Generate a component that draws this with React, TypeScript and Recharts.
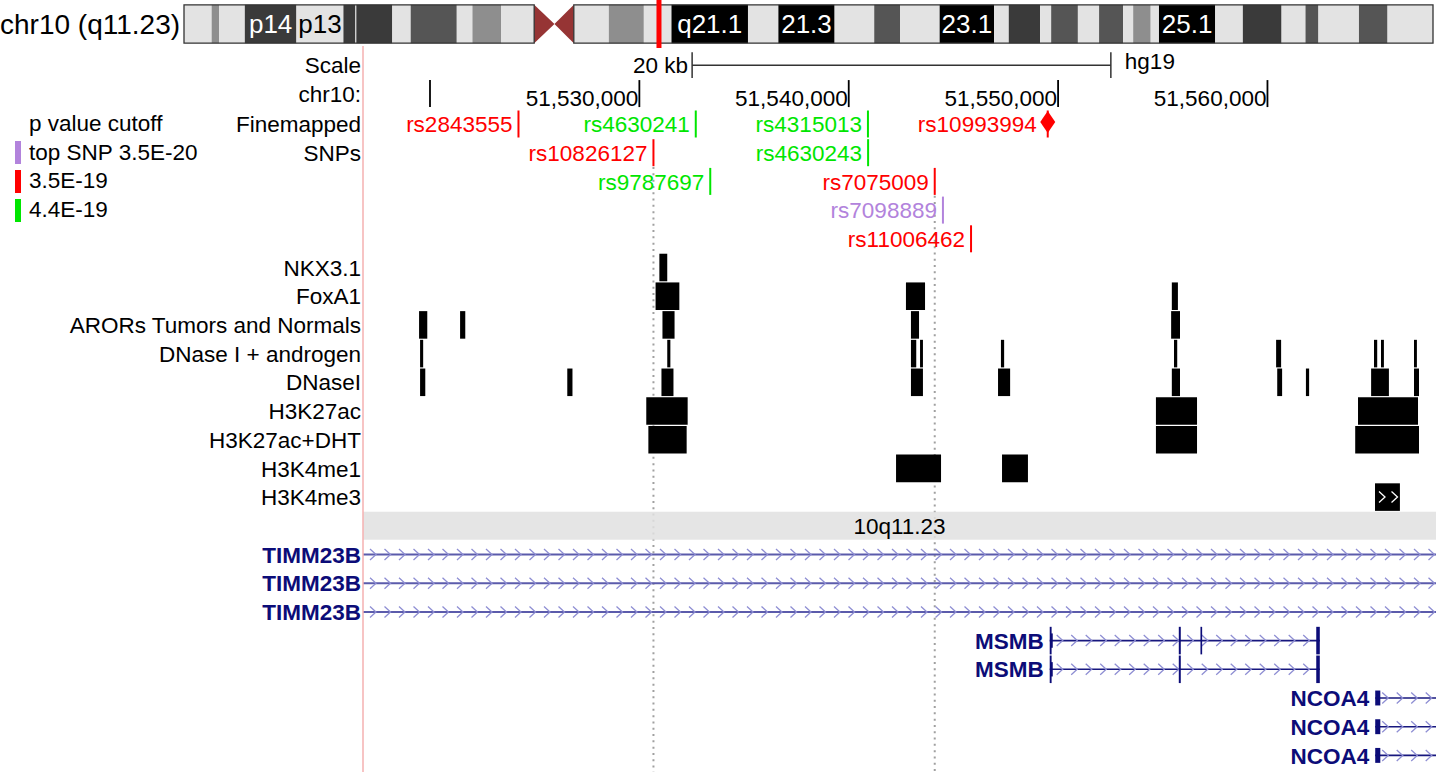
import React from 'react'
import { ComposedChart, XAxis, YAxis, ReferenceArea, ReferenceLine, Scatter } from 'recharts'

const FONT = '"Liberation Sans", Arial, Helvetica, sans-serif'
const FS = 22.5
const W = 1436
const MAIN_TOP = 46
const MAIN_H = 726
const ROW_H = 28.7
const FIRST_ROW_Y = 78

// hg19 chr10 window shown
const VIEW: [number, number] = [51516800, 51568050]
const VIEW_MID = (VIEW[0] + VIEW[1]) / 2
const CHR_LEN = 135534747

// cytobands of chr10: start, end, stain, label drawn in the ideogram
const BANDS: [number, number, string, string][] = [
  [0, 3000000, 'gneg', ''],
  [3000000, 3800000, 'gpos25', ''],
  [3800000, 6600000, 'gneg', ''],
  [6600000, 12200000, 'gpos75', 'p14'],
  [12200000, 17300000, 'gneg', 'p13'],
  [17300000, 18600000, 'gpos75', ''],
  [18600000, 18700000, 'gneg', ''],
  [18700000, 22600000, 'gpos75', ''],
  [22600000, 24600000, 'gneg', ''],
  [24600000, 29600000, 'gpos50', ''],
  [29600000, 31300000, 'gneg', ''],
  [31300000, 34400000, 'gpos25', ''],
  [34400000, 38000000, 'gneg', ''],
  [38000000, 40200000, 'acen', ''],
  [40200000, 42300000, 'acen', ''],
  [42300000, 46100000, 'gneg', ''],
  [46100000, 49900000, 'gpos25', ''],
  [49900000, 52900000, 'gneg', ''],
  [52900000, 61200000, 'gpos100', 'q21.1'],
  [61200000, 64500000, 'gneg', ''],
  [64500000, 70600000, 'gpos100', '21.3'],
  [70600000, 74900000, 'gneg', ''],
  [74900000, 77700000, 'gpos50', ''],
  [77700000, 82000000, 'gneg', ''],
  [82000000, 87900000, 'gpos100', '23.1'],
  [87900000, 89500000, 'gneg', ''],
  [89500000, 92900000, 'gpos75', ''],
  [92900000, 94100000, 'gneg', ''],
  [94100000, 97000000, 'gpos50', ''],
  [97000000, 99300000, 'gneg', ''],
  [99300000, 101900000, 'gpos50', ''],
  [101900000, 103000000, 'gneg', ''],
  [103000000, 104900000, 'gpos25', ''],
  [104900000, 105800000, 'gneg', ''],
  [105800000, 111900000, 'gpos100', '25.1'],
  [111900000, 114900000, 'gneg', ''],
  [114900000, 119100000, 'gpos75', ''],
  [119100000, 121700000, 'gneg', ''],
  [121700000, 123100000, 'gpos50', ''],
  [123100000, 127500000, 'gneg', ''],
  [127500000, 130600000, 'gpos50', ''],
  [130600000, CHR_LEN, 'gneg', ''],
]
const CENTROMERE: [number, number] = [38000000, 42300000]

const STAIN_FILL: Record<string, string> = {
  gneg: '#e3e3e3',
  gpos25: '#8e8e8e',
  gpos50: '#555555',
  gpos75: '#3a3a3a',
  gpos100: '#000000',
  acen: '#963434',
}

// rows of the track area (row 0 = first SNP line)
const SCALE_ROW = -2.05
const AXIS_ROW = -1.06
const LEFT_ROWS = [SCALE_ROW, AXIS_ROW, 0, 1, 5, 6, 7, 8, 9, 10, 11, 12, 13, 15, 16, 17]
const LEFT_LABELS = [
  'Scale', 'chr10:', 'Finemapped', 'SNPs', 'NKX3.1', 'FoxA1', 'ARORs Tumors and Normals',
  'DNase I + androgen', 'DNaseI', 'H3K27ac', 'H3K27ac+DHT', 'H3K4me1', 'H3K4me3',
  'TIMM23B', 'TIMM23B', 'TIMM23B',
]
const NAVY = '#0c0c78'

const SCALE_BAR: [number, number] = [51532520, 51552520]
const SCALE_TEXT = ['20 kb', 'hg19']
const AXIS_TICKS = [51520000, 51530000, 51540000, 51550000, 51560000]
const AXIS_LABELS = ['', '51,530,000', '51,540,000', '51,550,000', '51,560,000']

const SNP_COLOR: Record<string, string> = { top: '#b283dc', red: '#ff0000', green: '#00e600' }
const SNP_NAMES = ['rs2843555', 'rs4630241', 'rs4315013', 'rs10993994', 'rs10826127', 'rs4630243', 'rs9787697', 'rs7075009', 'rs7098889', 'rs11006462']
const SNP_POS = [51524226, 51532694, 51540918, 51549505, 51530673, 51540925, 51533386, 51544108, 51544500, 51545842]
const SNP_ROW = [0, 0, 0, 0, 1, 1, 2, 2, 3, 4]
const SNP_CAT = ['red', 'green', 'green', 'red', 'red', 'green', 'green', 'red', 'top', 'red']
const SNP_DIAMOND = ['rs10993994']
const SNP_HIGHLIGHT = ['rs10826127', 'rs7075009']

const LEGEND_TEXT = ['p value cutoff', 'top SNP 3.5E-20', '3.5E-19', '4.4E-19']
const LEGEND_CAT = ['', 'top', 'red', 'green']

// peak tracks: [start, end]
const NKX31: [number, number][] = [[51530955, 51531332]]
const FOXA1: [number, number][] = [[51530774, 51531910], [51542733, 51543645], [51555432, 51555723]]
const ARORS: [number, number][] = [[51519478, 51519870], [51521437, 51521685], [51531103, 51531681], [51542972, 51543358], [51555399, 51555824]]
const DNASE_ANDRO: [number, number][] = [
  [51519526, 51519674], [51531332, 51531481], [51542972, 51543225], [51543406, 51543545], [51547270, 51547423],
  [51555537, 51555690], [51560413, 51560652], [51565089, 51565242], [51565424, 51565562], [51567000, 51567138],
]
const DNASEI: [number, number][] = [
  [51519526, 51519775], [51526557, 51526805], [51531055, 51531629], [51542972, 51543545], [51547131, 51547709],
  [51555432, 51555824], [51560466, 51560700], [51561837, 51561990], [51564951, 51565801], [51567000, 51567238],
]
const H3K27AC: [number, number][] = [[51530330, 51532307], [51554673, 51556636], [51564325, 51567191]]
const H3K27AC_DHT: [number, number][] = [[51530430, 51532259], [51554673, 51556636], [51564191, 51567238]]
const H3K4ME1: [number, number][] = [[51542260, 51544409], [51547322, 51548560]]
const H3K4ME3: [number, number][] = [[51565137, 51566326]]
const PEAK_TRACKS = [NKX31, FOXA1, ARORS, DNASE_ANDRO, DNASEI, H3K27AC, H3K27AC_DHT, H3K4ME1, H3K4ME3]
const PEAK_ROWS = [5, 6, 7, 8, 9, 10, 11, 12, 13]

const BAND_ROW = 14
const BAND_NAME = '10q11.23'

// genes: exons as [start, end, half height in rows]
const MSMB_A_EXONS: [number, number, number][] = [
  [51549600, 51549690, 0.48], [51549640, 51549745, 0.25], [51555765, 51555860, 0.48], [51556800, 51556880, 0.48], [51562330, 51562500, 0.48],
]
const MSMB_B_EXONS: [number, number, number][] = [
  [51549600, 51549690, 0.48], [51549640, 51549745, 0.25], [51555765, 51555860, 0.48], [51562330, 51562500, 0.48],
]
const NCOA4_EXONS: [number, number, number][] = [[51565147, 51565390, 0.26]]
const GENE_NAMES = ['TIMM23B', 'TIMM23B', 'TIMM23B', 'MSMB', 'MSMB', 'NCOA4', 'NCOA4', 'NCOA4']
const GENE_ROWS = [15, 16, 17, 18, 19, 20, 21, 22]
const GENE_SPANS: [number, number][] = [
  VIEW, VIEW, VIEW, [51549600, 51562500], [51549600, 51562500], [51565147, 51590734], [51565147, 51590734], [51565147, 51590734],
]
const GENE_EXONS = [[], [], [], MSMB_A_EXONS, MSMB_B_EXONS, NCOA4_EXONS, NCOA4_EXONS, NCOA4_EXONS]
const GENE_INLINE_LABEL = [false, false, false, true, true, true, true, true]

const Y_DOMAIN: [number, number] = [-FIRST_ROW_Y / ROW_H, (MAIN_H - FIRST_ROW_Y) / ROW_H]

const chevronPath = (x0: number, x1: number, cy: number, step: number, first: number) => {
  let d = ''
  for (let cx = x0 + first; cx < x1 - 3; cx += step) {
    d += `M${cx - 3},${cy - 5.5}L${cx + 3},${cy}L${cx - 3},${cy + 5.5}`
  }
  return d
}

const GeneLine = (p: any) => {
  const { x, y, width, height, light, label } = p
  const cy = y + height / 2
  const line = light ? '#5b5bab' : '#17177e'
  return (
    <g>
      <line x1={x} x2={x + width} y1={cy} y2={cy} stroke={line} strokeWidth={light ? 2 : 1.6} />
      <path d={chevronPath(x, x + width, cy, 14.5, 10)} stroke="#8e8ed3" strokeWidth={1.3} fill="none" />
      {label && (
        <text x={x - 6} y={cy} dy="0.36em" textAnchor="end" fill={NAVY} fontSize={FS} fontWeight="bold" fontFamily={FONT}>
          {label}
        </text>
      )}
    </g>
  )
}

const ChevronBlock = (p: any) => {
  const { x, y, width, height } = p
  return (
    <g>
      <rect x={x} y={y} width={width} height={height} fill="#000" />
      <path d={chevronPath(x, x + width, y + height / 2, 12.5, 7)} stroke="#fff" strokeWidth={1.3} fill="none" />
    </g>
  )
}

// vertical dotted guide drawn from the left edge of its (1 bp wide) area
const DottedGuide = (p: any) => {
  const { x, y, height } = p
  return <line x1={x} x2={x} y1={y} y2={y + height} stroke="#a0a0a0" strokeWidth={2} strokeDasharray="2 4.3" />
}

const ScaleBar = (p: any) => {
  const { x, y, width, height } = p
  const my = y + height / 2
  return (
    <g fontFamily={FONT} fontSize={FS}>
      <line x1={x} x2={x + width} y1={my} y2={my} stroke="#333" strokeWidth={1.5} />
      <line x1={x} x2={x} y1={y} y2={y + height} stroke="#333" strokeWidth={1.5} />
      <line x1={x + width} x2={x + width} y1={y} y2={y + height} stroke="#333" strokeWidth={1.5} />
      <text x={x - 4} y={my} dy="0.36em" textAnchor="end" fill="#000">{SCALE_TEXT[0]}</text>
      <text x={x + width + 14} y={my - 4} dy="0.36em" textAnchor="start" fill="#000">{SCALE_TEXT[1]}</text>
    </g>
  )
}

const AxisTick = (p: any) => {
  const { cx, cy, payload } = p
  return (
    <g>
      <line x1={cx} x2={cx} y1={cy - 13.5} y2={cy + 13.5} stroke="#000" strokeWidth={1.8} />
      {payload.label && (
        <text x={cx - 1} y={cy + 4} dy="0.36em" textAnchor="end" fill="#000" fontSize={FS} fontFamily={FONT}>
          {payload.label}
        </text>
      )}
    </g>
  )
}

const SnpMark = (p: any) => {
  const { cx, cy, payload } = p
  const c = SNP_COLOR[payload.cat]
  const dia = payload.diamond
  return (
    <g>
      <line x1={cx} x2={cx} y1={cy - 13.5} y2={cy + 13.5} stroke={c} strokeWidth={2} />
      {dia && <polygon points={`${cx},${cy - 13} ${cx + 7.5},${cy - 2} ${cx},${cy + 9} ${cx - 7.5},${cy - 2}`} fill={c} />}
      <text x={cx - (dia ? 11 : 6)} y={cy} dy="0.36em" textAnchor="end" fill={c} fontSize={FS} fontFamily={FONT}>
        {payload.name}
      </text>
    </g>
  )
}

const LeftTick = (p: any) => {
  const i = p.index
  const label = LEFT_LABELS[i]
  const gene = i >= 13
  return (
    <text x={p.x} y={p.y} dy="0.36em" textAnchor="end" fill={gene ? NAVY : '#000'} fontSize={FS}
      fontWeight={gene ? 'bold' : 'normal'} fontFamily={FONT}>
      {label}
    </text>
  )
}

const BandLabel = (p: any) => {
  const { cx, cy, payload } = p
  const dark = payload.stain !== 'gneg' && payload.stain !== 'gpos25'
  return (
    <text x={cx} y={cy} dy="0.36em" textAnchor="middle" fill={dark ? '#fff' : '#000'} fontSize={26} fontFamily={FONT}>
      {payload.label}
    </text>
  )
}

const Acen = (p: any) => {
  const { x, y, width, height, side } = p
  const pts = side === 'p'
    ? `${x},${y} ${x + width},${y + height / 2} ${x},${y + height}`
    : `${x},${y + height / 2} ${x + width},${y} ${x + width},${y + height}`
  return <polygon points={pts} fill={STAIN_FILL.acen} />
}

function Ideogram() {
  const labels = BANDS.filter((b) => b[3]).map((b) => ({ x: (b[0] + b[1]) / 2, y: 0.5, label: b[3], stain: b[2] }))
  return (
    <ComposedChart width={W} height={48} margin={{ top: 0, right: 3, bottom: 0, left: 184 }}>
      <XAxis type="number" dataKey="x" domain={[0, CHR_LEN]} hide allowDataOverflow />
      <YAxis type="number" dataKey="y" domain={[0, 1]} hide allowDataOverflow />
      {BANDS.map((b, i) =>
        b[2] === 'acen' ? (
          <ReferenceArea key={`b${i}`} x1={b[0]} x2={b[1]} y1={0.1} y2={0.9} ifOverflow="visible"
            shape={(sp: any) => <Acen {...sp} side={b[0] < CENTROMERE[0] + 1000000 ? 'p' : 'q'} />} />
        ) : (
          <ReferenceArea key={`b${i}`} x1={b[0]} x2={b[1]} y1={0.1} y2={0.9} fill={STAIN_FILL[b[2]]} fillOpacity={1}
            stroke="none" ifOverflow="visible" />
        )
      )}
      <ReferenceArea x1={0} x2={CENTROMERE[0]} y1={0.1} y2={0.9} fill="none" stroke="#333" strokeWidth={1.3} ifOverflow="visible" />
      <ReferenceArea x1={CENTROMERE[1]} x2={CHR_LEN} y1={0.1} y2={0.9} fill="none" stroke="#333" strokeWidth={1.3} ifOverflow="visible" />
      <Scatter data={labels} isAnimationActive={false} shape={(sp: any) => <BandLabel {...sp} />} />
      <ReferenceLine x={VIEW_MID} stroke="#ff0000" strokeWidth={5} ifOverflow="visible" />
    </ComposedChart>
  )
}

function Tracks() {
  const snps = SNP_NAMES.map((name, i) => ({
    x: SNP_POS[i], y: SNP_ROW[i], name, cat: SNP_CAT[i], diamond: SNP_DIAMOND.includes(name),
  }))
  const ticks = AXIS_TICKS.map((t, i) => ({ x: t, y: AXIS_ROW, label: AXIS_LABELS[i] }))
  return (
    <ComposedChart width={W} height={MAIN_H} margin={{ top: 0, right: 0, bottom: 0, left: 0 }}>
      <XAxis type="number" dataKey="x" domain={VIEW} hide allowDataOverflow />
      <YAxis type="number" dataKey="y" domain={Y_DOMAIN} reversed allowDataOverflow width={363}
        ticks={LEFT_ROWS} interval={0} tickLine={false} tickSize={0} tickMargin={2}
        axisLine={{ stroke: '#f5b0b0', strokeWidth: 1.5 }} tick={(tp: any) => <LeftTick {...tp} />} />

      <ReferenceArea x1={SCALE_BAR[0]} x2={SCALE_BAR[1]} y1={SCALE_ROW - 0.45} y2={SCALE_ROW + 0.45}
        ifOverflow="visible" shape={(sp: any) => <ScaleBar {...sp} />} />

      {snps.filter((s) => SNP_HIGHLIGHT.includes(s.name)).map((s) => (
        <ReferenceArea key={`d${s.name}`} x1={s.x} x2={s.x + 1} y1={s.y + 0.5} y2={Y_DOMAIN[1]}
          ifOverflow="visible" shape={(sp: any) => <DottedGuide {...sp} />} />
      ))}

      {PEAK_TRACKS.map((blocks, t) =>
        blocks.map((b, i) =>
          t === 8 ? (
            <ReferenceArea key={`p${t}-${i}`} x1={b[0]} x2={b[1]} y1={PEAK_ROWS[t] - 0.48} y2={PEAK_ROWS[t] + 0.48}
              ifOverflow="visible" shape={(sp: any) => <ChevronBlock {...sp} />} />
          ) : (
            <ReferenceArea key={`p${t}-${i}`} x1={b[0]} x2={b[1]} y1={PEAK_ROWS[t] - 0.48} y2={PEAK_ROWS[t] + 0.48}
              fill="#000" fillOpacity={1} stroke="none" ifOverflow="visible" />
          )
        )
      )}

      <ReferenceArea x1={VIEW[0]} x2={VIEW[1]} y1={BAND_ROW - 0.49} y2={BAND_ROW + 0.49} fill="#e1e1e1" fillOpacity={0.85}
        stroke="none" ifOverflow="visible"
        label={{ value: BAND_NAME, position: 'center', fill: '#000', fontSize: FS, fontFamily: FONT }} />

      {GENE_NAMES.map((g, i) => (
        <ReferenceArea key={`g${i}`} x1={GENE_SPANS[i][0]} x2={GENE_SPANS[i][1]} y1={GENE_ROWS[i] - 0.2} y2={GENE_ROWS[i] + 0.2}
          ifOverflow="hidden"
          shape={(sp: any) => <GeneLine {...sp} light={!GENE_INLINE_LABEL[i]} label={GENE_INLINE_LABEL[i] ? g : ''} />} />
      ))}
      {GENE_EXONS.map((exons, i) =>
        exons.map((e, k) => (
          <ReferenceArea key={`e${i}-${k}`} x1={e[0]} x2={e[1]} y1={GENE_ROWS[i] - e[2]} y2={GENE_ROWS[i] + e[2]}
            fill={NAVY} fillOpacity={1} stroke="none" ifOverflow="hidden" />
        ))
      )}

      <Scatter data={ticks} isAnimationActive={false} shape={(sp: any) => <AxisTick {...sp} />} />
      <Scatter data={snps} isAnimationActive={false} shape={(sp: any) => <SnpMark {...sp} />} />
    </ComposedChart>
  )
}

export default function App() {
  return (
    <div style={{ position: 'absolute', left: 0, top: 0, width: W, height: 772, background: '#fff', overflow: 'hidden', fontFamily: FONT }}>
      <div style={{ position: 'absolute', left: 0, top: 0 }}>
        <Ideogram />
      </div>
      <div style={{ position: 'absolute', left: 0, top: 0, width: 180, height: 48, lineHeight: '50px', textAlign: 'right', fontSize: 28, whiteSpace: 'nowrap', color: '#000' }}>
        chr10 (q11.23)
      </div>
      <div style={{ position: 'absolute', left: 0, top: MAIN_TOP }}>
        <Tracks />
      </div>
      {LEGEND_TEXT.map((t, i) => {
        const cy = MAIN_TOP + FIRST_ROW_Y + i * ROW_H
        return (
          <React.Fragment key={t}>
            {LEGEND_CAT[i] && (
              <div style={{ position: 'absolute', left: 15, top: cy - 11.5, width: 6, height: 23, background: SNP_COLOR[LEGEND_CAT[i]] }} />
            )}
            <div style={{ position: 'absolute', left: 29, top: cy - 14, height: 28, lineHeight: '28px', fontSize: FS, whiteSpace: 'nowrap', color: '#000' }}>
              {t}
            </div>
          </React.Fragment>
        )
      })}
    </div>
  )
}
